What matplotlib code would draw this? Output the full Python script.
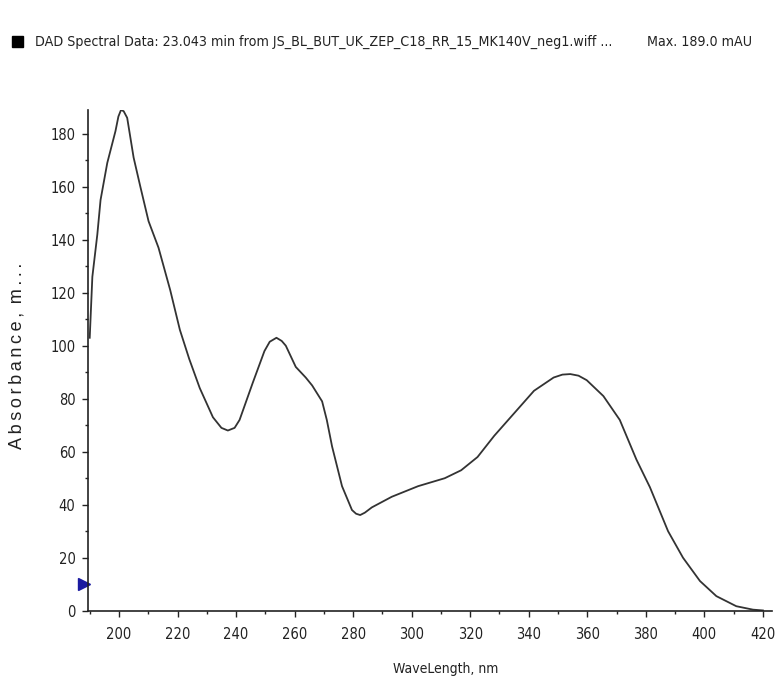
import matplotlib.pyplot as plt
import matplotlib.font_manager as fm
from matplotlib.patches import Rectangle
from matplotlib.ticker import MultipleLocator
import matplotlib.transforms as mtransforms

# spectrum
wavelength = [190.0, 190.9, 192.6, 193.7, 196.0, 198.8, 199.8, 200.7, 201.6, 202.8,
              205.0, 207.3, 210.1, 213.5, 217.5, 220.8, 224.0, 227.6, 232.1, 235.0,
              237.2, 239.5, 241.2, 245.7, 249.7, 251.5, 253.8, 255.6, 257.0, 260.4,
              263.8, 266.0, 269.4, 271.0, 272.8, 276.2, 279.6, 281.0, 282.4, 284.0,
              286.4, 293.2, 302.2, 311.3, 316.9, 322.5, 328.2, 335.0, 341.8, 348.5,
              351.5, 354.2, 357.0, 359.8, 365.5, 371.1, 376.8, 381.4, 387.6, 392.7,
              398.5, 404.1, 410.9, 416.6, 420.0]
absorbance = [103.0, 126.0, 142.0, 155.0, 169.0, 181.0, 186.5, 189.0, 188.5, 186.0,
              171.0, 160.0, 147.0, 137.0, 121.0, 106.0, 95.0, 84.0, 73.0, 69.0,
              68.0, 69.0, 72.0, 86.0, 98.0, 101.5, 103.0, 101.8, 100.0, 92.0,
              88.0, 85.0, 79.0, 72.0, 62.0, 47.0, 38.0, 36.6, 36.1, 37.0,
              39.0, 43.0, 47.0, 50.0, 53.0, 58.0, 66.0, 74.5, 83.0, 88.0,
              89.1, 89.3, 88.7, 87.0, 81.0, 72.0, 57.0, 46.6, 30.0, 20.0,
              11.2, 5.5, 1.7, 0.4, 0.1]

title = "DAD Spectral Data: 23.043 min from JS_BL_BUT_UK_ZEP_C18_RR_15_MK140V_neg1.wiff ..."
max_label = "Max. 189.0 mAU"
marker_level = 10

# the software uses a narrow font, take a condensed face when there is one
condensed = any(f.name == "DejaVu Sans" and f.stretch == "condensed"
                for f in fm.fontManager.ttflist)
if condensed:
    nfont = dict(family="DejaVu Sans", fontstretch="condensed")
    sz_tick, sz_title, sz_xlab = 10.5, 10.2, 10.0
else:
    nfont = dict(family="Liberation Sans")
    sz_tick, sz_title, sz_xlab = 10.0, 9.6, 9.5

fig = plt.figure(figsize=(7.75, 6.8), dpi=100)
ax = fig.add_axes([0.1135, 0.1019, 0.8826, 0.7365])

ax.plot(wavelength, absorbance, color="#333333", lw=1.3)
ax.set_xlim(189.4, 423.1)
ax.set_ylim(0, 189)

for s in ["top", "right"]:
    ax.spines[s].set_visible(False)
for s in ["left", "bottom"]:
    ax.spines[s].set_linewidth(1.2)
    ax.spines[s].set_color("#222222")

ax.xaxis.set_major_locator(MultipleLocator(20))
ax.xaxis.set_minor_locator(MultipleLocator(10))
ax.yaxis.set_major_locator(MultipleLocator(20))
ax.yaxis.set_minor_locator(MultipleLocator(10))
ax.tick_params(which="major", direction="out", length=4, width=1, color="#222222",
               labelsize=sz_tick, pad=5)
ax.tick_params(which="minor", direction="out", length=2.5, width=1, color="#222222")
for lab in ax.get_xticklabels() + ax.get_yticklabels():
    lab.set_family(nfont["family"])
    lab.set_stretch(nfont.get("fontstretch", "normal"))
    lab.set_color("#222222")
ax.xaxis.set_tick_params(pad=8)

ax.set_xlabel("WaveLength, nm", fontsize=sz_xlab, color="#222222", **nfont)
ax.xaxis.set_label_coords(0.5234, -0.102)
ax.set_ylabel("A\u2009b\u2009s\u2009o\u2009r\u2009b\u2009a\u2009n\u2009c\u2009e\u2009,\u2009 m\u2009.\u2009.\u2009.",
              family=["Liberation Sans", "DejaVu Sans"], fontsize=13, color="#222222")
ax.yaxis.set_label_coords(-0.092, 0.509)

# blue marker on the left axis
trans = mtransforms.blended_transform_factory(ax.transAxes, ax.transData)
ax.plot([-0.006], [marker_level], marker=">", color="#1a1aa0", markersize=9,
        transform=trans, clip_on=False)

# header
fig.add_artist(Rectangle((12 / 775, 1 - 47 / 680), 11 / 775, 11 / 680,
                         transform=fig.transFigure, color="black"))
fig.text(35 / 775, 1 - 42 / 680, title, fontsize=sz_title,
         color="#222222", va="center", ha="left", **nfont)
fig.text(752 / 775, 1 - 42 / 680, max_label, fontsize=sz_title,
         color="#222222", va="center", ha="right", **nfont)

fig.savefig("out.png", dpi=100)
